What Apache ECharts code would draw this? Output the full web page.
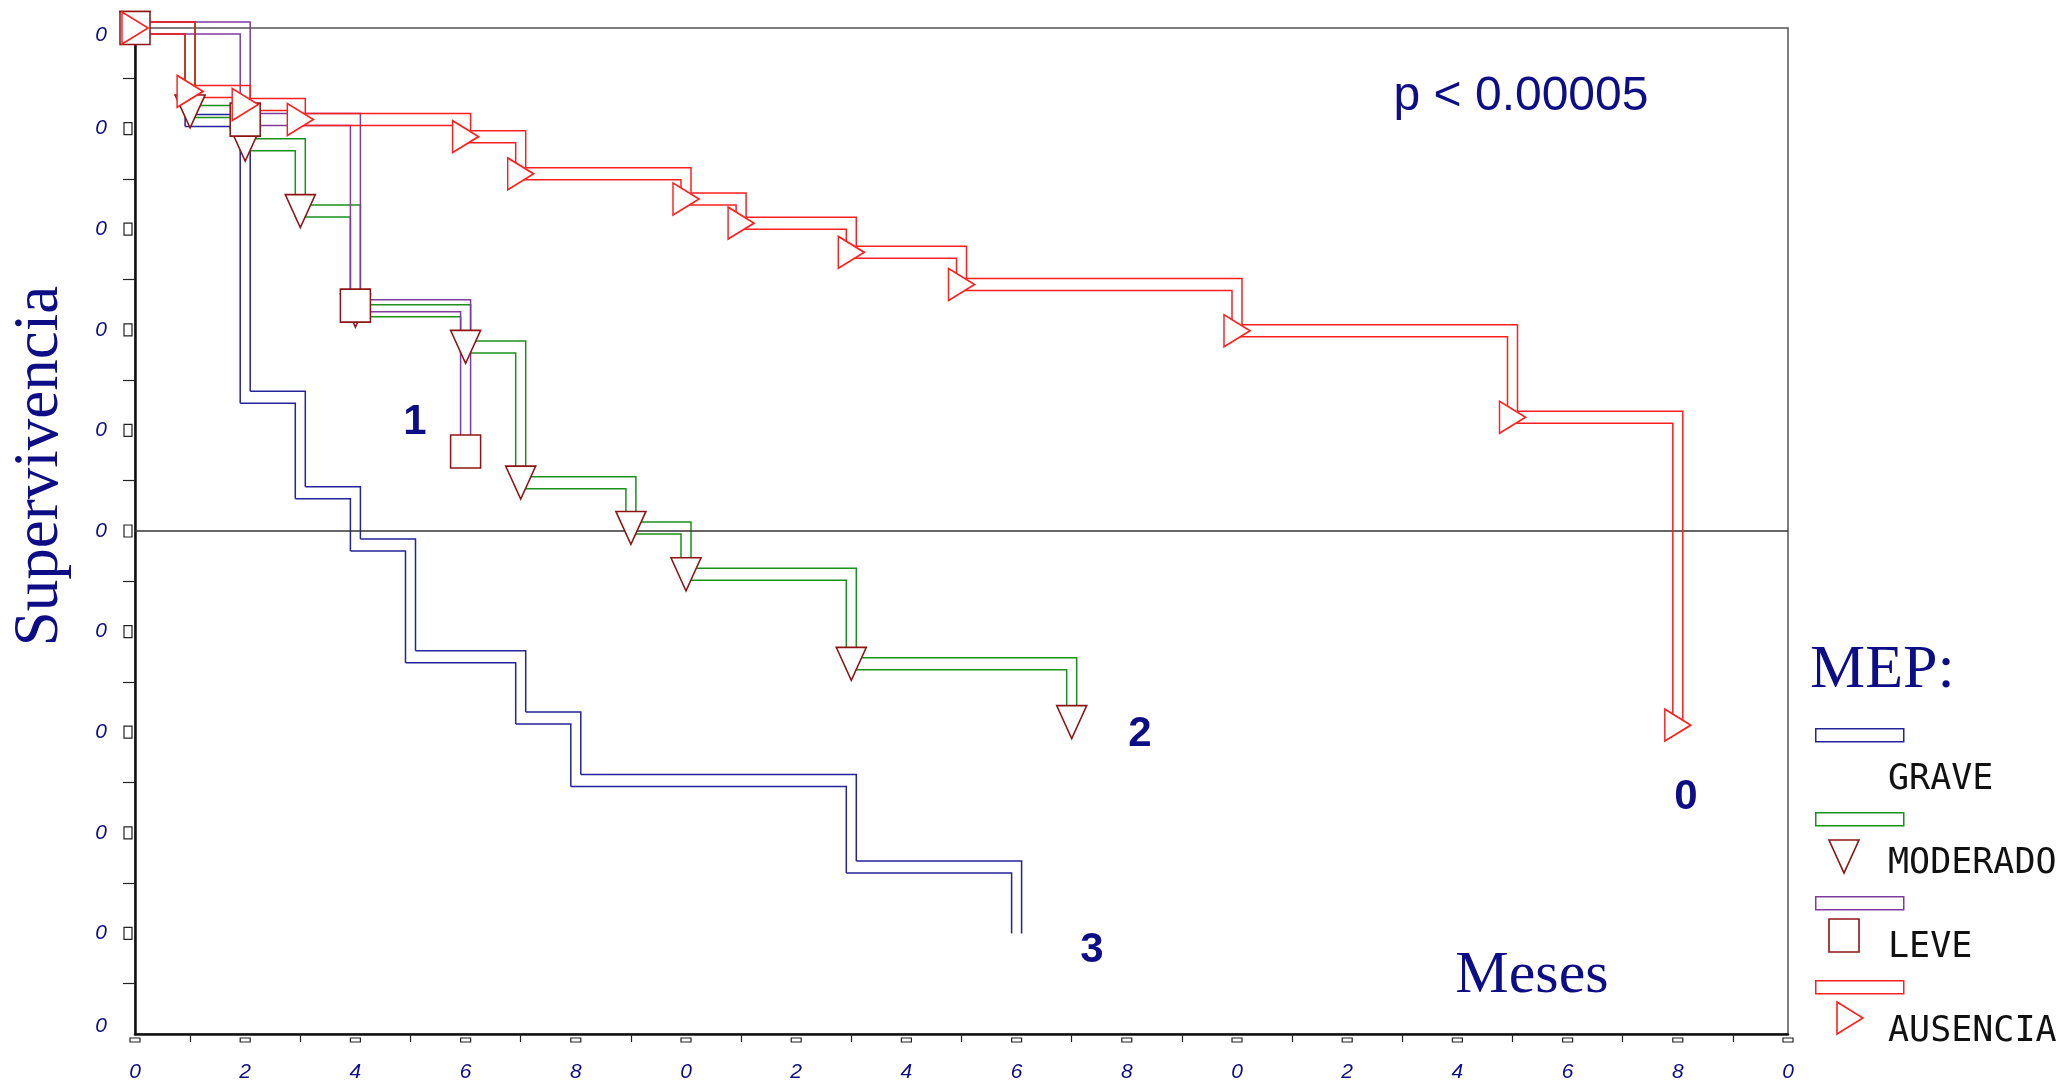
<!DOCTYPE html>
<html>
<head>
<meta charset="utf-8">
<script src="https://cdn.jsdelivr.net/npm/echarts@6/dist/echarts.min.js"></script>
<style>
  html, body { margin: 0; padding: 0; background: #fff; }
  #chart { width: 2060px; height: 1082px; }
</style>
</head>
<body>
<div id="chart"></div>
<script>
// datos (meses, supervivencia)
var graveT = [0, 1, 2, 3, 4, 5, 7, 8, 13, 16];
var graveS = [1.0, 0.908, 0.633, 0.538, 0.486, 0.375, 0.314, 0.252, 0.166, 0.10];

var moderT = [0, 1, 2, 3, 4, 6, 7, 9, 10, 13, 17];
var moderS = [1.0, 0.917, 0.884, 0.818, 0.719, 0.683, 0.548, 0.503, 0.457, 0.368, 0.31];

var leveT = [0, 2, 4, 6];
var leveS = [1.0, 0.909, 0.724, 0.579];

var ausT = [0, 1, 2, 3, 6, 7, 10, 11, 13, 15, 20, 25, 28];
var ausS = [1.0, 0.937, 0.924, 0.909, 0.892, 0.855, 0.830, 0.806, 0.777, 0.745, 0.699, 0.613, 0.307];

var groupNames = ['GRAVE', 'MODERADO', 'LEVE', 'AUSENCIA'];
var groupTags = ['3', '2', '1', '0'];
var medianLine = 0.5;

var navy = '#0d0d86';
var colBlue = '#23239b';
var colGreen = '#1b901b';
var colPurple = '#7e3c9d';
var colRed = '#ff1f1f';
var colMark = '#8e1414';

var triDown = 'path://M0,0 L30,0 L15,33 Z';
var triRight = 'path://M0,0 L26,16 L0,32 Z';
var square = 'rect';

// pares de escalones para la banda doble
function stepPairs(t, s) {
    var out = [];
    for (var i = 0; i < t.length - 1; i++) {
        out.push([t[i], s[i], t[i + 1], s[i + 1], i === t.length - 2 ? 1 : 0]);
    }
    return out;
}
function points(t, s) {
    return t.map(function (x, i) { return [x, s[i]]; });
}

function bandRender(color) {
    return function (params, api) {
        var a = api.coord([api.value(0), api.value(1)]);
        var b = api.coord([api.value(2), api.value(3)]);
        var last = api.value(4) === 1;
        var d = 5, e = 6;
        var style = { stroke: color, lineWidth: 1.5, fill: null };
        var endLow = last ? b[1] : b[1] + e;
        var endHigh = last ? b[1] : b[1] - e;
        return {
            type: 'group',
            children: [
                { type: 'polyline', shape: { points: [[a[0] - d, a[1] + e], [b[0] - d, a[1] + e], [b[0] - d, endLow]] }, style: style },
                { type: 'polyline', shape: { points: [[a[0] + d, a[1] - e], [b[0] + d, a[1] - e], [b[0] + d, endHigh]] }, style: style }
            ]
        };
    };
}

function bandSeries(name, t, s, color, z) {
    return {
        name: name,
        type: 'custom',
        renderItem: bandRender(color),
        encode: { x: [0, 2], y: [1, 3] },
        data: stepPairs(t, s),
        z: z,
        silent: true
    };
}

function markSeries(name, t, s, symbol, size, color, z) {
    return {
        name: name,
        type: 'scatter',
        symbol: symbol,
        symbolSize: size,
        itemStyle: { color: '#fff', borderColor: color, borderWidth: 1.6, opacity: 1 },
        data: points(t, s),
        z: z,
        silent: true
    };
}

var tickFont = { color: navy, fontStyle: 'italic', fontFamily: 'Liberation Sans, Arial, sans-serif', fontSize: 21 };

var myChart = echarts.init(document.getElementById('chart'), null, { renderer: 'canvas' });

// leyenda armada a mano
var legendColors = [colBlue, colGreen, colPurple, colRed];
var legendGraphics = [];
for (var k = 0; k < groupNames.length; k++) {
    var ry = 728 + k * 84;
    legendGraphics.push({
        type: 'rect', left: 1815, top: ry,
        shape: { width: 88, height: 13 },
        style: { fill: '#fff', stroke: legendColors[k], lineWidth: 1.5 }
    });
    legendGraphics.push({
        type: 'text', left: 1888, top: ry + 34,
        style: { text: groupNames[k], fill: '#111', font: '35px "DejaVu Sans Mono", monospace' }
    });
}
legendGraphics.push({ type: 'polygon', shape: { points: [[1829, 840], [1859, 840], [1844, 873]] }, style: { fill: '#fff', stroke: colMark, lineWidth: 1.6 } });
legendGraphics.push({ type: 'rect', shape: { x: 1829, y: 919, width: 30, height: 33 }, style: { fill: '#fff', stroke: colMark, lineWidth: 1.6 } });
legendGraphics.push({ type: 'polygon', shape: { points: [[1837, 1002], [1863, 1018], [1837, 1034]] }, style: { fill: '#fff', stroke: colRed, lineWidth: 1.6 } });

var tagFont = 'bold 42px "Liberation Sans", Arial, sans-serif';

var option = {
    backgroundColor: '#fff',
    animation: false,
    grid: {
        left: 135, right: 272, top: 28, bottom: 48,
        show: true, borderColor: '#555', borderWidth: 1.5,
        outerBoundsMode: 'none'
    },
    xAxis: [
        {
            type: 'value', min: 0, max: 30, interval: 2, position: 'bottom',
            axisLine: { show: true, onZero: false, lineStyle: { color: '#111', width: 2.5 } },
            axisTick: { show: false },
            minorTick: { show: true, splitNumber: 2, length: 8, lineStyle: { color: '#222', width: 1.2 } },
            splitLine: { show: false },
            axisLabel: Object.assign({ margin: 28, formatter: function (v) { return String(Math.round(v) % 10); } }, tickFont)
        },
        {
            type: 'value', min: 0, max: 30, interval: 2, position: 'bottom',
            axisLine: { show: false }, axisTick: { show: false }, splitLine: { show: false },
            axisLabel: {
                margin: 4,
                formatter: function () { return '{b| }'; },
                rich: { b: { width: 10, height: 4, borderColor: '#222', borderWidth: 1.2, fontSize: 4 } }
            }
        }
    ],
    yAxis: [
        {
            type: 'value', min: 0, max: 1, interval: 0.1, position: 'left',
            axisLine: { show: true, onZero: false, lineStyle: { color: '#111', width: 2.5 } },
            axisTick: { show: false },
            minorTick: { show: true, splitNumber: 2, length: 12, lineStyle: { color: '#222', width: 1.2 } },
            splitLine: { show: false },
            axisLabel: Object.assign({
                margin: 28,
                formatter: function (v) {
                    if (v > 0.95) return '{hi|0}';
                    if (v < 0.05) return '{lo|0}';
                    return '0';
                },
                rich: {
                    hi: Object.assign({ padding: [14, 0, 0, 0] }, tickFont),
                    lo: Object.assign({ padding: [0, 0, 16, 0] }, tickFont)
                }
            }, tickFont)
        },
        {
            type: 'value', min: 0, max: 1, interval: 0.1, position: 'left',
            axisLine: { show: false }, axisTick: { show: false }, splitLine: { show: false },
            axisLabel: {
                margin: 3,
                formatter: function (v) { return (v < 0.05 || v > 0.95) ? '' : '{b| }'; },
                rich: { b: { width: 8, height: 12, borderColor: '#222', borderWidth: 1.2, fontSize: 10 } }
            }
        }
    ],
    series: [
        bandSeries('GRAVE', graveT, graveS, colBlue, 2),
        bandSeries('MODERADO', moderT, moderS, colGreen, 3),
        bandSeries('LEVE', leveT, leveS, colPurple, 4),
        bandSeries('AUSENCIA', ausT, ausS, colRed, 5),
        markSeries('MODERADO ▽', moderT, moderS, triDown, [30, 33], colMark, 6),
        markSeries('LEVE □', leveT, leveS, square, [30, 33], colMark, 7),
        markSeries('AUSENCIA ▷', ausT, ausS, triRight, [26, 32], colRed, 8),
        {
            name: 'mediana', type: 'line', data: [], z: 10, silent: true,
            markLine: {
                symbol: 'none', silent: true, label: { show: false },
                lineStyle: { color: '#333', width: 1.5, type: 'solid' },
                data: [{ yAxis: medianLine }]
            }
        }
    ],
    graphic: [
        {
            type: 'text', x: 40, y: 466, rotation: Math.PI / 2,
            style: { text: 'Supervivencia', fill: navy, font: '63px "Liberation Serif", "Times New Roman", serif', align: 'center', verticalAlign: 'middle' }
        },
        {
            type: 'text', x: 1521, y: 97,
            style: { text: 'p < 0.00005', fill: navy, font: '48px "Liberation Sans", Arial, sans-serif', align: 'center', verticalAlign: 'middle' }
        },
        {
            type: 'text', x: 1532, y: 976,
            style: { text: 'Meses', fill: navy, font: '60px "Liberation Serif", "Times New Roman", serif', align: 'center', verticalAlign: 'middle' }
        },
        {
            type: 'text', x: 1810, y: 671,
            style: { text: 'MEP:', fill: navy, font: '62px "Liberation Serif", "Times New Roman", serif', align: 'left', verticalAlign: 'middle' }
        },
        { type: 'text', x: 415, y: 422, style: { text: groupTags[2], fill: navy, font: tagFont, align: 'center', verticalAlign: 'middle' } },
        { type: 'text', x: 1140, y: 734, style: { text: groupTags[1], fill: navy, font: tagFont, align: 'center', verticalAlign: 'middle' } },
        { type: 'text', x: 1092, y: 950, style: { text: groupTags[0], fill: navy, font: tagFont, align: 'center', verticalAlign: 'middle' } },
        { type: 'text', x: 1686, y: 797, style: { text: groupTags[3], fill: navy, font: tagFont, align: 'center', verticalAlign: 'middle' } }
    ].concat(legendGraphics)
};

myChart.setOption(option);
</script>
</body>
</html>
